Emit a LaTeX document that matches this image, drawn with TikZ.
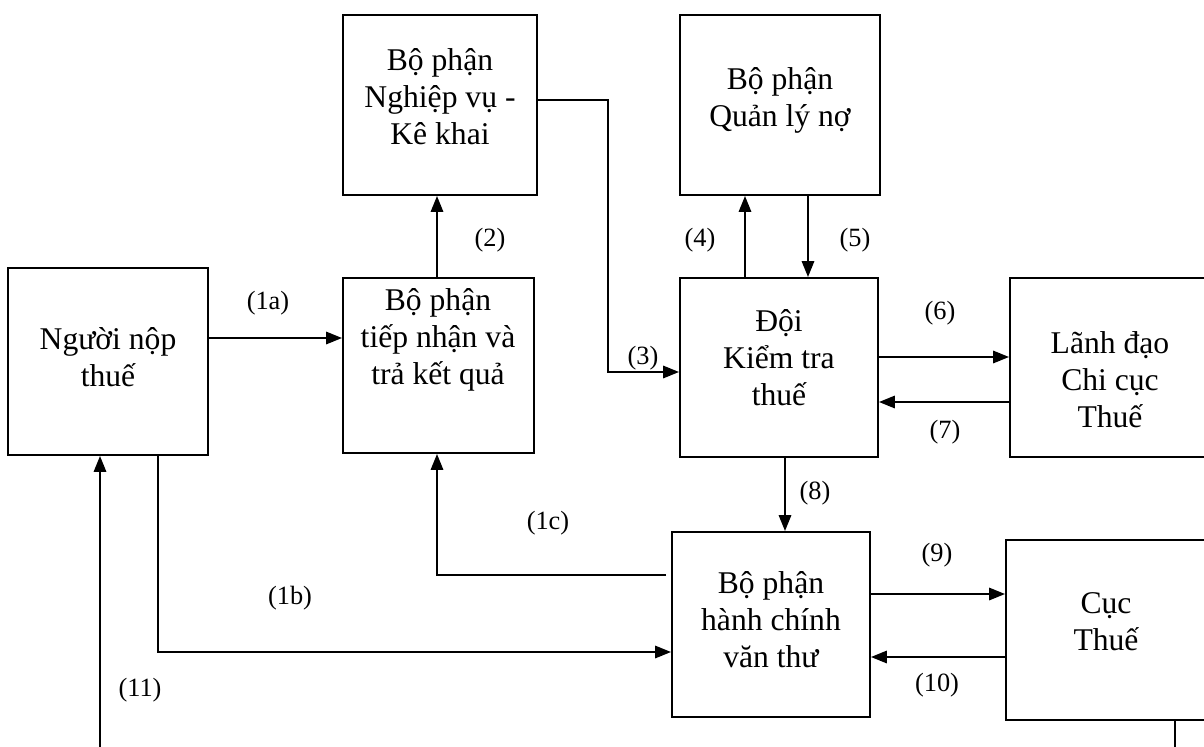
\documentclass[tikz,border=0pt]{standalone}
\usepackage{fontspec}
\setmainfont{Liberation Serif}
\usetikzlibrary{arrows.meta,fit}
\begin{document}
\begin{tikzpicture}[x=0.02cm,y=-0.02cm,
  box/.style={draw, line width=1.1pt, inner sep=0pt},
  txt/.style={align=center, font=\fontsize{18}{21}\selectfont},
  lbl/.style={font=\fontsize{15}{17}\selectfont},
  wire/.style={line width=1.1pt},
  link/.style={wire, -{Triangle[length=9pt,width=7pt]}}]
\useasboundingbox (0,0) rectangle (1204,747);
\clip (0,0) rectangle (1204,747);

% units and departments
\node[box, fit={(8,268) (208,455)}] (A) {};
\node[box, fit={(343,278) (534,453)}] (B) {};
\node[box, fit={(343,15) (537,195)}] (C) {};
\node[box, fit={(680,15) (880,195)}] (D) {};
\node[box, fit={(680,278) (878,457)}] (E) {};
\node[box, fit={(1010,278) (1230,457)}] (F) {};
\node[box, fit={(672,532) (870,717)}] (G) {};
\node[box, fit={(1006,540) (1230,720)}] (H) {};

\node[txt] (At) at (108,357) {Người nộp\\thuế};
\node[txt] (Bt) at (438,340) {Bộ phận\\tiếp nhận và\\trả kết quả};
\node[txt] (Ct) at (440,97) {Bộ phận\\Nghiệp vụ -\\Kê khai};
\node[txt] (Dt) at (780,100) {Bộ phận\\Quản lý nợ};
\node[txt] (Et) at (779,358) {Đội\\Kiểm tra\\thuế};
\node[txt] (Ft) at (1110,380) {Lãnh đạo\\Chi cục\\Thuế};
\node[txt] (Gt) at (771,620) {Bộ phận\\hành chính\\văn thư};
\node[txt] (Ht) at (1106,622) {Cục\\Thuế};

% flows between units
\draw[link] (A.east |- 0,338) -- (B.west |- 0,338);
\draw[link] (B.north -| 437,0) -- (C.south -| 437,0);
\draw[link] (C.east |- 0,100) -- (608,100) -- (608,372) -- (E.west |- 0,372);
\draw[link] (E.north -| 745,0) -- (D.south -| 745,0);
\draw[link] (D.south -| 808,0) -- (E.north -| 808,0);
\draw[link] (E.east |- 0,357) -- (F.west |- 0,357);
\draw[link] (F.west |- 0,402) -- (E.east |- 0,402);
\draw[link] (E.south -| 785,0) -- (G.north -| 785,0);
\draw[link] (G.west |- 0,575) ++(-5,0) -- (437,575) -- (B.south -| 437,0);
\draw[link] (A.south -| 158,0) -- (158,652) -- (G.west |- 0,652);
\draw[link] (G.east |- 0,594) -- (H.west |- 0,594);
\draw[link] (H.west |- 0,657) -- (G.east |- 0,657);
\draw[link] (H.south -| 1175,0) -- (1175,750) -- (100,750) -- (A.south -| 100,0);

% step numbers
\node[lbl] (l1a) at (268,303) {(1a)};
\node[lbl] (l2) at (490,240) {(2)};
\node[lbl] (l3) at (643,358) {(3)};
\node[lbl] (l4) at (700,240) {(4)};
\node[lbl] (l5) at (855,240) {(5)};
\node[lbl] (l6) at (940,313) {(6)};
\node[lbl] (l7) at (945,432) {(7)};
\node[lbl] (l8) at (815,493) {(8)};
\node[lbl] (l1c) at (548,523) {(1c)};
\node[lbl] (l1b) at (290,598) {(1b)};
\node[lbl] (l9) at (937,555) {(9)};
\node[lbl] (l10) at (937,685) {(10)};
\node[lbl] (l11) at (140,690) {(11)};
\end{tikzpicture}
\end{document}
